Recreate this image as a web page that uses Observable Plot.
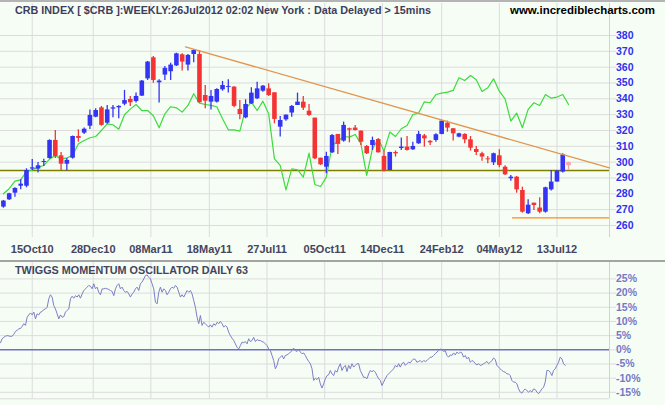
<!DOCTYPE html>
<html><head><meta charset="utf-8">
<script src="https://cdn.jsdelivr.net/npm/d3@7"></script>
<script src="https://cdn.jsdelivr.net/npm/@observablehq/plot@0.6"></script>
<style>
html,body{margin:0;padding:0;background:#f5fdf5;}
#wrap{position:relative;width:665px;height:405px;background:#f5fdf5;overflow:hidden;font-family:"Liberation Sans",Arial,sans-serif;}
#wrap svg{position:absolute;left:0;}
.bar{position:absolute;left:0;width:665px;}
</style></head><body><div id="wrap"></div>
<script>
// ---- Data ----
const titleText = "CRB INDEX [ $CRB ]:WEEKLY:26Jul2012 02:02 New York : Data Delayed > 15mins";
const siteText = "www.incrediblecharts.com";
const oscTitle = "TWIGGS MOMENTUM OSCILLATOR DAILY 63";

const weekStart = "2010-09-10";
const opens = [271.6,276.2,280.4,284.8,284.8,295.6,295.6,299.8,302.3,313.7,
304.0,298.7,302.5,316.2,318.3,322.7,328.4,334.3,324.6,333.5,
334.3,336.6,339.6,338.3,341.7,352.6,365.9,350.1,355.0,357.1,
360.8,367.8,361.3,368.0,368.0,
342.1,337.9,337.9,345.7,347.2,347.4,333.3,328.0,336.8,340.0,
344.8,346.3,343.8,322.1,326.7,331.0,335.8,337.9,332.2,327.8,
302.5,296.8,305.9,317.5,313.3,321.1,321.5,319.6,309.9,310.5,
314.3,303.6,294.7,306.1,308.6,309.5,307.8,311.6,
316.6,313.1,313.7,317.5,324.6,321.1,315.8,317.5,314.1,308.0,
305.3,302.1,299.6,304.0,296.8,289.5,290.5,282.1,267.4,274.1,
271.0,268.4,282.5,287.4,293.7,299.8];
const highs = [275.8,280.4,283.8,288.8,295.8,301.7,299.8,301.9,314.1,320.0,
306.1,302.3,316.5,320.4,321.5,333.0,333.7,335.2,335.8,335.8,
335.6,345.3,341.5,343.6,351.6,363.6,366.7,352.0,360.4,362.5,
368.8,368.4,368.0,371.0,370.5,
348.4,345.3,346.3,351.0,352.0,347.6,338.9,339.4,347.0,350.5,
348.4,349.5,343.8,328.8,329.7,335.8,343.6,341.5,336.4,327.8,
302.5,306.3,317.5,317.5,325.3,321.5,323.2,319.6,310.5,315.8,
314.7,307.0,306.3,307.0,315.2,316.2,312.6,319.4,
317.5,313.7,317.9,325.9,325.9,321.1,318.3,317.9,316.2,309.9,
306.3,303.6,305.7,307.8,297.7,291.6,291.0,284.2,276.2,274.1,
277.5,284.2,294.7,294.7,305.3,299.8];
const lows = [270.9,275.8,277.9,282.5,283.8,294.7,293.1,297.3,301.9,302.3,
294.7,294.5,301.9,312.6,317.5,320.6,328.0,322.7,324.0,328.0,
327.4,335.6,335.2,337.3,341.5,351.6,349.9,337.3,351.6,351.6,
360.4,357.5,357.5,362.7,337.3,
333.7,333.0,337.3,344.8,343.6,334.3,326.7,327.4,336.4,339.6,
344.2,341.5,324.2,315.8,325.9,328.4,335.8,332.6,328.8,301.7,
297.9,292.6,305.5,304.8,312.6,312.2,319.6,310.5,304.8,307.4,
305.7,293.7,294.7,303.2,307.4,307.0,307.4,311.2,
309.5,310.5,312.6,317.3,318.9,313.3,315.4,311.6,307.0,304.2,
300.6,299.0,297.9,296.4,291.6,288.0,280.4,267.8,267.0,269.5,
267.4,267.8,281.7,287.4,293.1,294.7];
const closes = [275.4,280.0,283.4,286.1,294.7,296.4,297.7,300.4,313.7,303.6,
298.7,301.1,316.2,315.0,320.8,329.5,332.6,323.2,333.0,334.3,
335.2,338.9,337.5,341.5,351.2,363.2,351.6,351.2,359.2,361.3,
368.4,363.2,367.4,370.5,337.5,
338.5,341.5,345.9,348.4,347.8,335.2,330.1,336.4,343.6,346.3,
348.0,342.1,327.0,326.3,329.7,335.2,337.9,334.1,329.5,302.1,
298.3,303.6,316.8,311.2,323.2,320.2,320.0,312.6,305.3,313.7,
305.9,294.3,306.1,305.3,309.5,307.4,309.9,317.5,
314.7,312.2,317.3,325.9,321.5,317.9,317.9,314.1,308.8,306.1,
303.2,301.5,305.3,297.9,292.0,290.5,282.5,268.4,272.8,272.6,
268.4,283.8,287.4,294.3,304.6,297.7];
const rsLine = [280.0,283.2,288.0,288.8,294.1,295.0,296.8,297.9,301.9,304.2,
301.9,302.7,304.2,311.6,313.7,315.4,316.2,320.0,324.2,323.6,
320.8,329.9,333.5,336.4,332.6,332.6,329.3,321.7,330.5,335.0,
334.3,331.6,335.8,343.2,337.3,
336.4,335.8,335.0,327.4,320.4,320.4,319.6,333.7,337.9,332.6,
338.5,330.5,302.1,297.9,282.5,295.8,295.2,290.5,305.7,285.9,
284.6,290.5,310.5,313.1,316.2,315.8,317.5,311.6,291.6,308.4,
314.7,307.0,319.0,316.2,321.1,323.2,330.1,331.0,
338.1,337.5,342.7,343.6,344.2,345.3,353.3,351.6,354.7,352.0,
344.6,347.0,352.6,344.8,340.0,325.9,331.0,321.7,333.3,337.5,
335.8,342.7,340.4,341.1,342.7,336.4];

const tickDates = ["2010-10-15","2010-12-28","2011-03-08","2011-05-18","2011-07-27","2011-10-05","2011-12-14","2012-02-24","2012-05-04","2012-07-13"];
const tickLabels = ["15Oct10","28Dec10","08Mar11","18May11","27Jul11","05Oct11","14Dec11","24Feb12","04May12","13Jul12"];
const priceTicks = [260,270,280,290,300,310,320,330,340,350,360,370,380];
const oscTicks = [-15,-10,-5,0,5,10,15,20,25];

const pivotLevel = 294.7;
const supportLevel = 264.8;
const supportFrom = "2012-05-20";
const trendStart = ["2011-04-19", 372.8];
const trendEnd = ["2012-09-14T18:00Z", 296.4];
const xDomain = ["2010-09-06T11:00Z", "2012-09-14T18:00Z"];

const oscStart = "2010-09-06T11:00Z";
const oscStepDays = 2.0222;
const oscValues = [2.5,3.9,4.4,4.8,5.0,4.9,4.7,4.8,5.5,6.5,
6.9,7.4,7.5,8.3,9.2,8.6,11.5,12.3,13.0,12.3,
13.3,10.9,12.7,12.3,13.3,13.5,14.2,14.4,15.0,18.0,
19.4,18.6,15.6,14.4,12.7,10.9,12.3,11.5,11.7,13.3,
13.9,14.4,18.0,18.9,18.2,19.1,18.6,19.4,18.2,19.7,
20.9,21.5,22.1,22.7,22.4,21.5,23.3,21.5,22.1,20.3,
19.4,21.5,21.5,21.7,21.5,21.3,20.9,20.6,19.1,21.5,
22.7,23.3,21.5,22.1,20.9,20.3,20.6,19.7,18.6,19.7,
20.3,21.5,22.1,20.9,23.3,23.9,25.0,26.2,26.4,25.6,
25.0,23.3,21.5,16.8,16.2,20.3,22.1,20.3,21.5,20.9,
19.4,20.3,21.5,22.1,21.7,22.7,22.1,20.3,18.6,19.4,
18.6,19.7,20.9,20.3,20.9,19.7,17.4,15.0,11.5,9.2,
12.1,8.6,9.7,9.2,8.6,8.0,8.8,8.0,9.2,8.6,
9.7,9.2,10.0,9.2,8.0,8.6,8.0,6.2,5.0,4.1,
3.3,2.1,0.9,0.3,1.5,2.7,2.5,2.9,2.1,3.9,
2.9,3.3,4.4,2.9,3.6,3.3,3.3,2.9,2.7,2.1,
1.5,0.3,-0.3,-2.0,-3.8,-6.7,-5.5,-3.2,-2.6,-2.0,
-3.2,-2.0,-1.8,-1.4,-0.8,-0.3,0.6,-0.3,-0.6,0.1,
-0.8,-1.4,-1.1,-2.0,-3.2,-4.1,-4.9,-6.7,-10.8,-10.0,
-10.5,-9.7,-12.0,-13.5,-12.0,-10.2,-9.1,-8.8,
-7.3,-8.5,-9.1,-7.3,-7.9,-6.1,-4.9,-7.3,-6.1,-5.5,
-7.7,-5.5,-6.7,-4.9,-6.1,-5.5,-4.9,-4.9,-7.3,-8.5,
-9.7,-9.7,-10.2,-8.5,-7.3,-7.7,-7.3,-7.9,-9.1,-10.2,
-10.8,-12.6,-11.4,-10.2,-9.1,-8.5,-7.9,-7.3,-6.7,-5.5,
-6.1,-4.9,-6.1,-4.9,-4.4,-5.5,-4.9,-4.4,-4.6,-3.8,
-3.2,-3.4,-4.4,-4.1,-3.8,-4.4,-3.8,-4.1,-3.8,-3.2,
-2.6,-2.6,-2.0,-1.4,-0.8,-0.3,0.3,0.0,-0.6,-0.3,
-2.0,-2.6,-1.8,-2.0,-1.1,-1.8,-0.8,-1.4,-0.8,-1.1,
-2.6,-2.0,-3.2,-2.6,-4.4,-3.8,-4.1,-4.9,-5.3,-4.9,
-5.5,-5.3,-4.9,-4.6,-4.1,-4.9,-4.4,-3.8,-2.9,-3.4,
-5.5,-6.1,-6.7,-7.3,-7.7,-7.9,-8.5,-8.5,-9.1,-10.8,
-11.4,-11.4,-12.0,-13.8,-14.9,-15.3,-14.4,-13.8,-14.4,-14.9,
-14.4,-14.9,-13.8,-14.0,-14.9,-15.5,-14.7,-13.8,-13.2,-11.4,
-7.3,-7.3,-7.9,-9.1,-7.3,-6.7,-5.5,-4.4,-2.6,-3.2,
-4.9,-5.5];

// ---- Build ----
const DAY = 864e5;
const xd = xDomain.map(d => new Date(d));
const t0 = Date.parse(weekStart + "T00:00Z");
const candles = opens.map((o, i) => ({
  date: new Date(t0 + i * 7 * DAY), open: o, high: highs[i], low: lows[i], close: closes[i], rs: rsLine[i],
  kind: i === opens.length - 1 ? "cur" : (closes[i] >= o ? "up" : "down")
}));
const up = candles.filter(d => d.kind === "up");
const down = candles.filter(d => d.kind === "down");
const cur = candles.filter(d => d.kind === "cur");
const ticks = tickDates.map((d, i) => ({date: new Date(d + "T00:00Z"), label: tickLabels[i]}));
const trend = [trendStart, trendEnd].map(([d, v]) => ({date: new Date(d), v}));
const osc0 = Date.parse(oscStart);
const osc = oscValues.map((v, k) => ({date: new Date(osc0 + k * oscStepDays * DAY), v}));
const font = '"Liberation Sans", Arial, sans-serif';
const GRID = "#dcdcdc";
const UPC = "#3434f4", DNC = "#f43434", CURC = "#f4a6a6";

function candleMarks(data, color) {
  return [
    Plot.ruleX(data, {x: "date", y1: "low", y2: "high", stroke: color, strokeWidth: 1.3}),
    Plot.ruleX(data, {x: "date", y1: "open", y2: "close", stroke: color, strokeWidth: 4.6})
  ];
}

const upper = Plot.plot({
  width: 665, height: 260,
  marginLeft: 0, marginRight: 56, marginTop: 3, marginBottom: 23,
  style: {background: "transparent", fontFamily: font, overflow: "visible"},
  x: {type: "utc", domain: xd, axis: null},
  y: {domain: [252.4, 400.2], axis: null},
  marks: [
    Plot.ruleX(ticks, {x: "date", stroke: GRID}),
    Plot.ruleY(priceTicks, {stroke: GRID}),
    Plot.axisY({ticks: priceTicks, anchor: "right", label: null, tickSize: 6, tickPadding: 0.5, stroke: GRID, strokeOpacity: 1,
      fill: "#3030f0", fontSize: 10.5, fontWeight: "bold"}),
    Plot.ruleX([xd[1]], {stroke: "#d2d2d2"}),
    Plot.ruleY([pivotLevel], {stroke: "#808000", strokeWidth: 1.6}),
    Plot.ruleY([{y: supportLevel, x1: new Date(supportFrom + "T00:00Z"), x2: xd[1]}], {y: "y", x1: "x1", x2: "x2", stroke: "#ff8a1c", strokeWidth: 1.3}),
    Plot.line(candles, {x: "date", y: "rs", stroke: "#3cdc3c", strokeWidth: 1.2}),
    ...candleMarks(up, UPC),
    ...candleMarks(down, DNC),
    ...candleMarks(cur, CURC),
    Plot.line(trend, {x: "date", y: "v", stroke: "#e3954f", strokeWidth: 1.3}),
    Plot.text(ticks, {x: "date", text: "label", frameAnchor: "bottom", dy: 12, lineAnchor: "middle",
      fontSize: 11, fontWeight: "bold", fill: "#45455f"})
  ]
});
upper.style.top = "0px";

const lower = Plot.plot({
  width: 665, height: 143,
  marginLeft: 0, marginRight: 56, marginTop: 0, marginBottom: 6.7,
  style: {background: "transparent", fontFamily: font, overflow: "visible"},
  x: {type: "utc", domain: xd, axis: null},
  y: {domain: [-17.28, 30.79], axis: null},
  marks: [
    Plot.ruleX(ticks, {x: "date", stroke: GRID}),
    Plot.ruleY(oscTicks.filter(t => t !== 0), {stroke: GRID}),
    Plot.ruleY([-17.28], {stroke: GRID}),
    Plot.axisY({ticks: oscTicks, anchor: "right", label: null, tickSize: 6, tickPadding: 0.5, stroke: GRID, strokeOpacity: 1,
      fill: "#7777c6", fontSize: 10.5, fontWeight: "bold", tickFormat: d => d + "%"}),
    Plot.ruleX([xd[1]], {stroke: "#d2d2d2"}),
    Plot.ruleY([0], {stroke: "#7070c0", strokeWidth: 1.5}),
    Plot.line(osc, {x: "date", y: "v", stroke: "#7e7ec6", strokeWidth: 1})
  ]
});
lower.style.top = "262px";

function addText(svg, str, x, y, len, fill, size) {
  d3.select(svg).append("text")
    .attr("x", x).attr("y", y)
    .attr("text-anchor", "start")
    .attr("textLength", len).attr("lengthAdjust", "spacingAndGlyphs")
    .attr("fill", fill).attr("font-size", size).attr("font-weight", "bold")
    .attr("font-family", font)
    .text(str);
}
addText(upper, titleText, 15, 13.5, 416, "#3e3e5c", 11.5);
addText(upper, siteText, 510, 13.5, 145, "#000000", 11.5);
addText(lower, oscTitle, 15, 11.5, 233, "#44445e", 11.5);

const wrap = document.getElementById("wrap");
const topLine = document.createElement("div");
topLine.className = "bar"; topLine.style.top = "0px"; topLine.style.height = "2px"; topLine.style.background = "#b4b4b4";
const sep = document.createElement("div");
sep.className = "bar"; sep.style.top = "260px"; sep.style.height = "2px"; sep.style.background = "#a4a4a4";
wrap.appendChild(upper);
wrap.appendChild(lower);
wrap.appendChild(topLine);
wrap.appendChild(sep);
</script>
</body></html>
